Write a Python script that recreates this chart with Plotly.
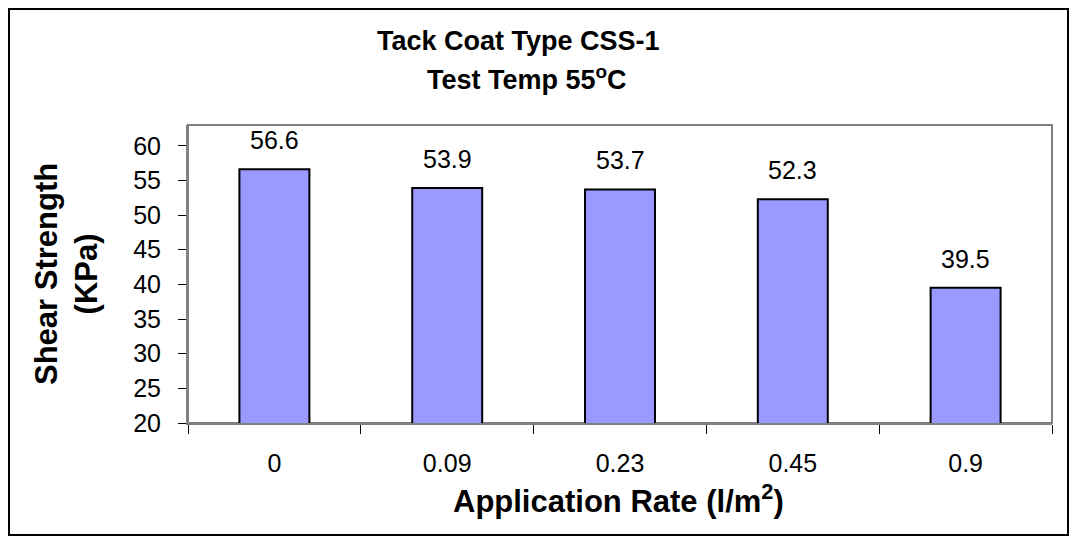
import plotly.graph_objects as go

# ── Data ──────────────────────────────────────────────────────────────────────
rates = ["0", "0.09", "0.23", "0.45", "0.9"]
shear_strength = [56.6, 53.9, 53.7, 52.3, 39.5]
y_ticks = [20, 25, 30, 35, 40, 45, 50, 55, 60]

# page body has an 8px margin, so the figure is sized to sit inside it
W, H = 1061, 528
M_L, M_R, M_T, M_B = 180, 17, 117, 113
PW, PH = W - M_L - M_R, H - M_T - M_B
FONT = "Liberation Sans, Arial, sans-serif"


def px_x(sx):
    """screen x pixel -> paper x"""
    return (sx - 8 - M_L) / PW


def px_y(sy):
    """screen y pixel -> paper y"""
    return 1 - (sy - 8 - M_T) / PH


fig = go.Figure()
fig.add_trace(
    go.Bar(
        x=rates,
        y=shear_strength,
        marker=dict(color="#9999FF", line=dict(color="#000000", width=2)),
        width=0.405,
        hoverinfo="x+y",
    )
)

# value labels above the bars
for i, v in enumerate(shear_strength):
    fig.add_annotation(
        x=i, y=v, xref="x", yref="y", text=f"{v}", showarrow=False,
        yanchor="bottom", yshift=13,
        font=dict(size=25, color="#000000", family=FONT),
    )

# chart title (two lines)
fig.add_annotation(
    xref="paper", yref="paper", x=px_x(518), y=px_y(41), showarrow=False,
    text="<b>Tack Coat Type CSS-1</b>", xanchor="center", yanchor="middle",
    font=dict(size=27, family=FONT, color="#000000"),
)
fig.add_annotation(
    xref="paper", yref="paper", x=px_x(527), y=px_y(78), showarrow=False,
    text="<b>Test Temp 55<sup>o</sup>C</b>", xanchor="center", yanchor="middle",
    font=dict(size=27, family=FONT, color="#000000"),
)

# axis titles
fig.add_annotation(
    xref="paper", yref="paper", x=px_x(618), y=px_y(499), showarrow=False,
    text="<b>Application Rate (l/m<sup>2</sup>)</b>", xanchor="center", yanchor="middle",
    font=dict(size=31, family=FONT, color="#000000"),
)
fig.add_annotation(
    xref="paper", yref="paper", x=px_x(66), y=px_y(274), showarrow=False,
    text="<b>Shear Strength<br>(KPa)</b>", textangle=-90,
    xanchor="center", yanchor="middle",
    font=dict(size=31, family=FONT, color="#000000"),
)

# outer chart frame = figure edge
fig.add_shape(
    type="rect", xref="paper", yref="paper",
    x0=(1 - M_L) / PW, x1=(W - 1 - M_L) / PW,
    y0=1 - (H - 1 - M_T) / PH, y1=1 - (1 - M_T) / PH,
    line=dict(color="#000000", width=2), layer="above",
)
# plot area frame (grey)
fig.add_shape(
    type="rect", xref="paper", yref="paper", x0=0, x1=1, y0=0, y1=1,
    line=dict(color="#808080", width=2), layer="below",
)

fig.update_layout(
    width=W,
    height=H,
    margin=dict(l=M_L, r=M_R, t=M_T, b=M_B),
    paper_bgcolor="#FFFFFF",
    plot_bgcolor="#FFFFFF",
    showlegend=False,
    font=dict(family=FONT, color="#000000", size=24),
    xaxis=dict(
        type="category",
        showline=True, linecolor="#808080", linewidth=2,
        ticks="outside", tickcolor="#000000", ticklen=9, tickwidth=1,
        tickson="boundaries",
        ticklabelstandoff=17,
        showgrid=False,
        tickfont=dict(size=25, family=FONT),
    ),
    yaxis=dict(
        range=[20, 63],
        tickvals=y_ticks,
        showline=True, linecolor="#808080", linewidth=2,
        ticks="outside", tickcolor="#000000", ticklen=8, tickwidth=1,
        ticklabelstandoff=12,
        showgrid=False, zeroline=False,
        tickfont=dict(size=25, family=FONT),
    ),
)

fig.write_html("out.html")
